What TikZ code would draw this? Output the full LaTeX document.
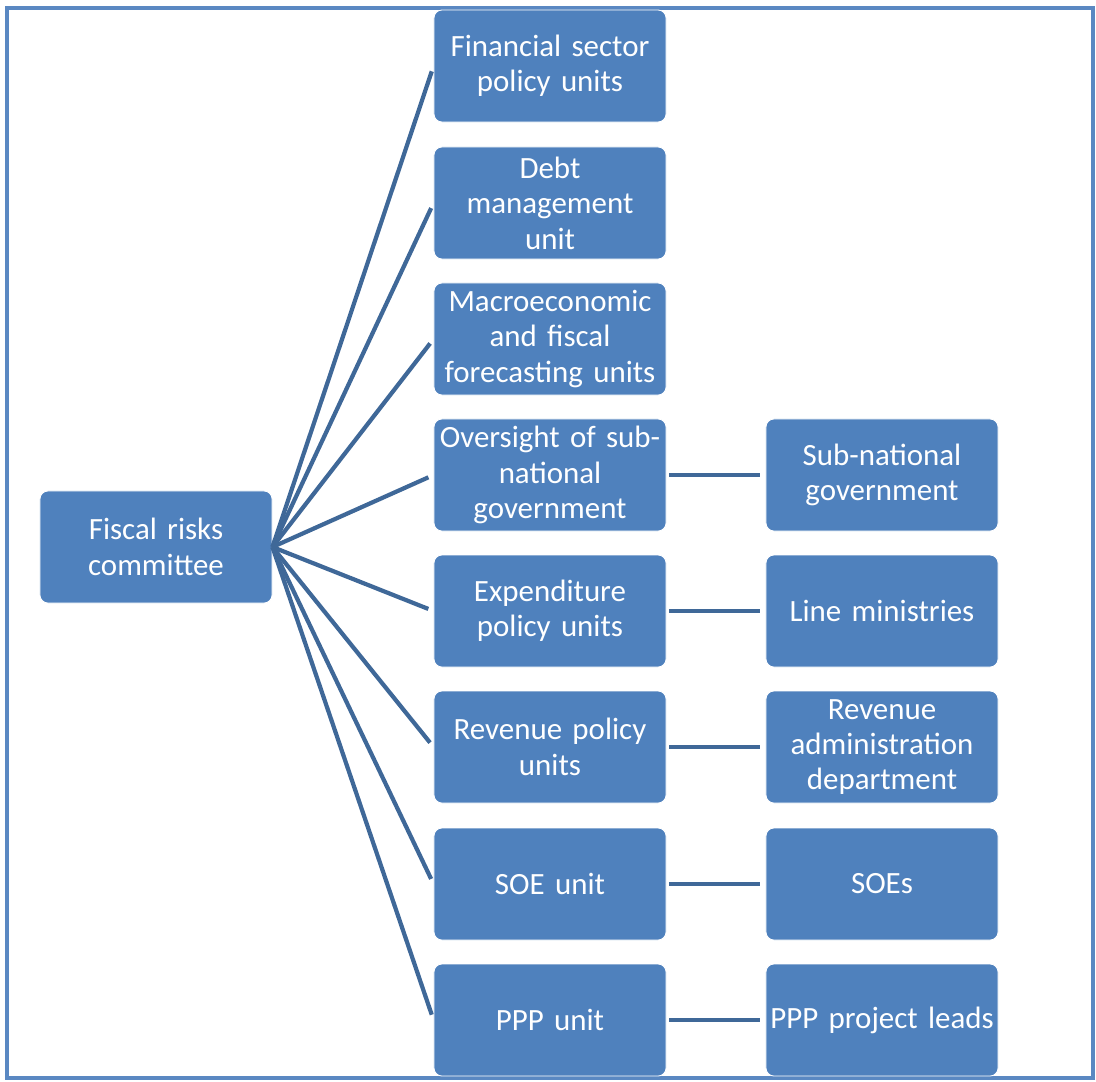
\documentclass[tikz,border=0pt]{standalone}
\usepackage{fontspec}
\setmainfont{Carlito}
\usepackage{tikz}
\usetikzlibrary{positioning}

\definecolor{boxblue}{HTML}{4F81BD}
\definecolor{lineblue}{HTML}{3F6898}
\definecolor{frameblue}{HTML}{5A88C2}

\tikzset{
    unit/.style={draw=white, line width=0.6pt, fill=boxblue, rounded corners=0.2cm,
        minimum width=5.8cm, minimum height=2.8cm, text width=5.75cm, align=center,
        inner sep=0pt, text=white, font=\fontsize{22}{25.2}\selectfont},
    link/.style={lineblue, line width=3pt}
}

\begin{document}
\begin{tikzpicture}[x=0.025cm, y=-0.025cm]
        \useasboundingbox (0, 0) rectangle (1096, 1081);
        \draw[frameblue, line width=3pt] (7, 8) rectangle (1093, 1078);

        \node[unit] (root) at (156, 547) {Fiscal risks\\committee};

        \node[unit] (a1) at (550, 66) {Financial sector\\policy units};
        \node[unit] (a2) at (550, 203) {Debt\\management\\unit};
        \node[unit] (a3) at (550, 339) {Macroeconomic\\and fiscal\\forecasting units};
        \node[unit] (a4) at (550, 475) {Oversight of sub-\\national\\government};
        \node[unit] (a5) at (550, 611) {Expenditure\\policy units};
        \node[unit] (a6) at (550, 747) {Revenue policy\\units};
        \node[unit] (a7) at (550, 884) {SOE unit};
        \node[unit] (a8) at (550, 1020) {PPP unit};

        \node[unit] (b4) at (882, 475) {Sub-national\\government};
        \node[unit] (b5) at (882, 611) {Line ministries};
        \node[unit] (b6) at (882, 747) {Revenue\\administration\\department};
        \node[unit] (b7) at (882, 884) {SOEs};
        \node[unit] (b8) at (882, 1020) {PPP project leads};

        \draw[link, shorten >=4pt] (root.east) -- (a1.west);
        \draw[link, shorten >=4pt] (root.east) -- (a2.west);
        \draw[link, shorten >=4pt] (root.east) -- (a3.west);
        \draw[link, shorten >=4pt] (root.east) -- (a4.west);
        \draw[link, shorten >=4pt] (root.east) -- (a5.west);
        \draw[link, shorten >=4pt] (root.east) -- (a6.west);
        \draw[link, shorten >=4pt] (root.east) -- (a7.west);
        \draw[link, shorten >=4pt] (root.east) -- (a8.west);

        \draw[link, shorten <=2pt, shorten >=4pt] (a4) -- (b4);
        \draw[link, shorten <=2pt, shorten >=4pt] (a5) -- (b5);
        \draw[link, shorten <=2pt, shorten >=4pt] (a6) -- (b6);
        \draw[link, shorten <=2pt, shorten >=4pt] (a7) -- (b7);
        \draw[link, shorten <=2pt, shorten >=4pt] (a8) -- (b8);
    \end{tikzpicture}
\end{document}
